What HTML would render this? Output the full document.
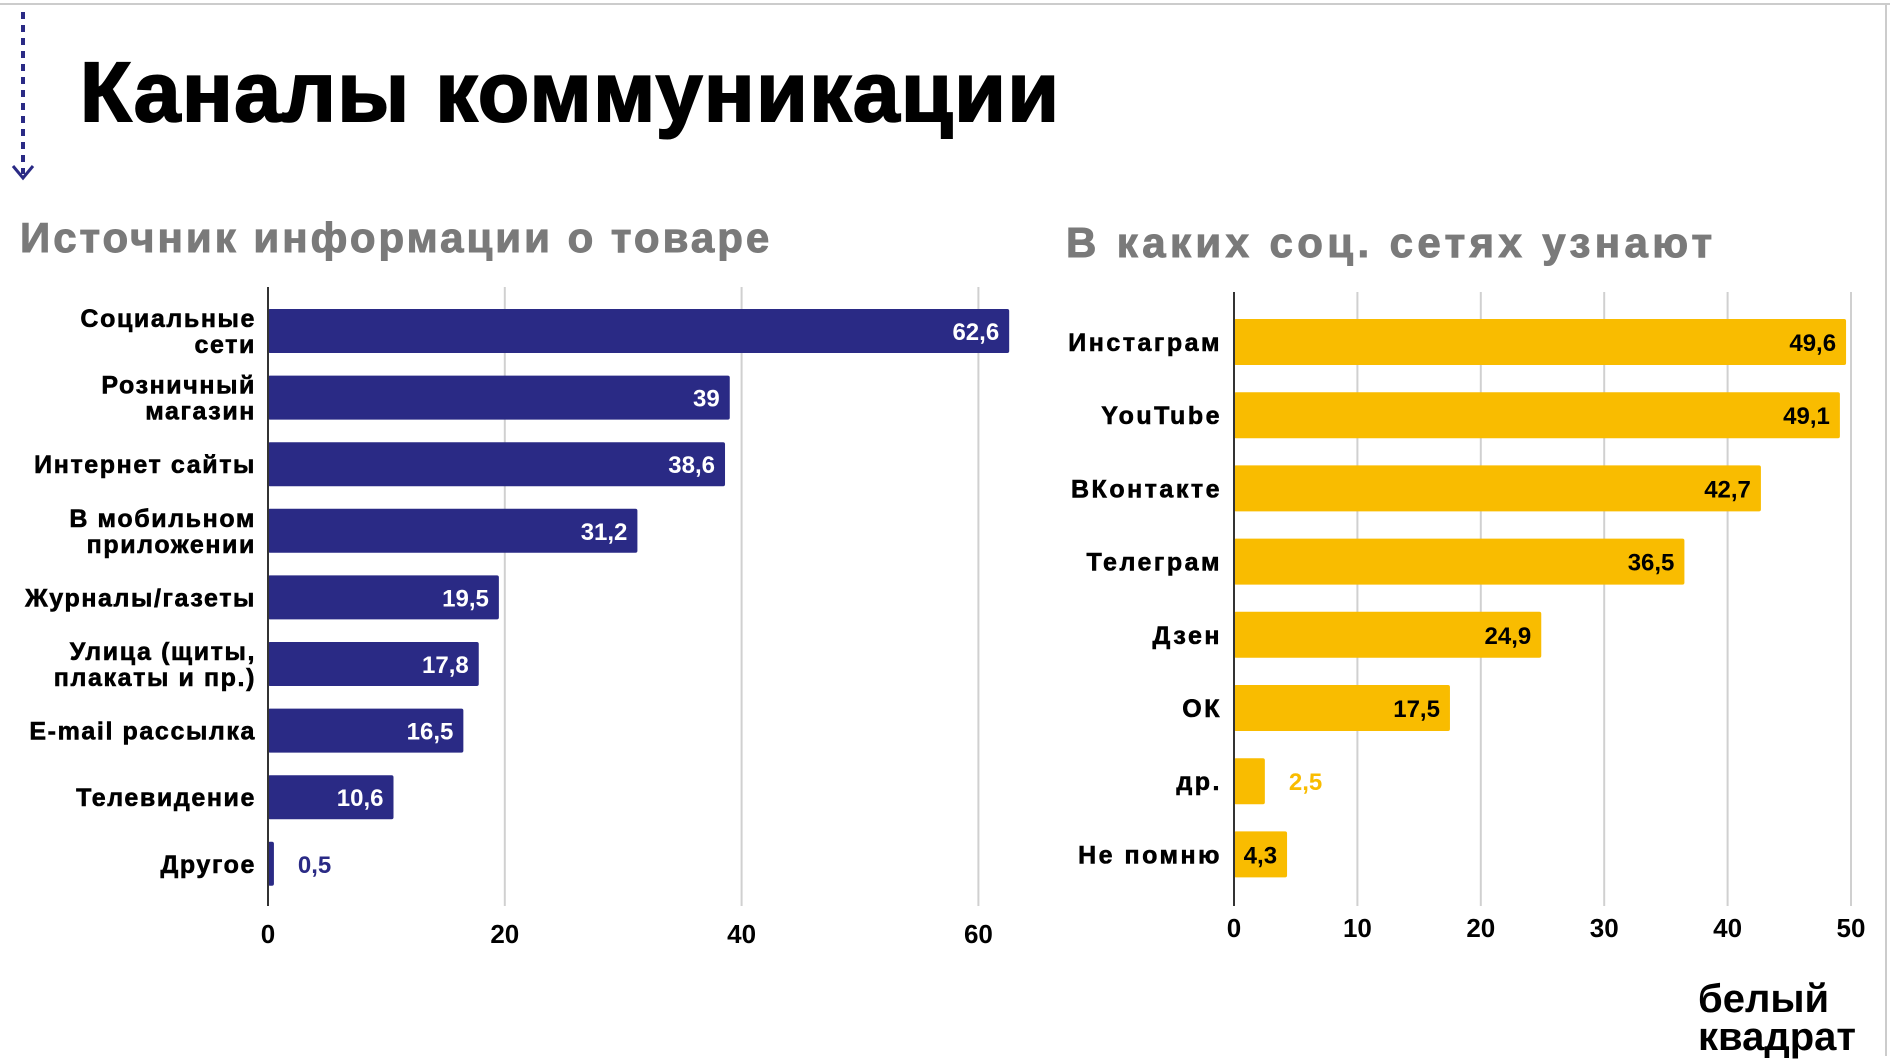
<!DOCTYPE html>
<html><head><meta charset="utf-8">
<style>
html,body{margin:0;padding:0;background:#fff;}
body{width:1890px;height:1056px;position:relative;overflow:hidden;font-family:"Liberation Sans","DejaVu Sans",sans-serif;}
.abs{position:absolute;}
</style></head>
<body>
<div class="abs" style="left:0;top:3px;width:1890px;height:2px;background:#ccc"></div>
<div class="abs" style="left:1885px;top:3px;width:2px;height:1053px;background:#ccc"></div>
<svg class="abs" style="left:10px;top:8px" width="30" height="175">
<line x1="13" y1="4" x2="13" y2="166" stroke="#2a2a85" stroke-width="4" stroke-dasharray="7,6"/>
<polyline points="3,158 13,170 23,158" fill="none" stroke="#2a2a85" stroke-width="3"/>
</svg>
<div class="abs" style="left:80px;top:44px;font-size:84px;font-weight:bold;color:#000;letter-spacing:1.5px;-webkit-text-stroke:2px #000">Каналы коммуникации</div>
<div class="abs" style="left:20px;top:214px;font-size:42px;font-weight:bold;color:#7a7a7a;letter-spacing:3px;-webkit-text-stroke:1px #7a7a7a">Источник информации о товаре</div>
<div class="abs" style="left:1066px;top:219px;font-size:42px;font-weight:bold;color:#7a7a7a;letter-spacing:4.4px;-webkit-text-stroke:1px #7a7a7a">В каких соц. сетях узнают</div>
<svg class="abs" id="chart" style="left:0;top:0" width="1890" height="1056"></svg>
<div class="abs" style="left:1698px;top:980px;font-size:40px;font-weight:bold;line-height:38px;color:#000;letter-spacing:0px">белый<br>квадрат</div>
<script>
const leftCats=[["Социальные","сети"],["Розничный","магазин"],["Интернет сайты"],["В мобильном","приложении"],["Журналы/газеты"],["Улица (щиты,","плакаты и пр.)"],["E-mail рассылка"],["Телевидение"],["Другое"]];
const leftVals=[62.6,39,38.6,31.2,19.5,17.8,16.5,10.6,0.5];
const leftTicks=[0,20,40,60];
const rightCats=["Инстаграм","YouTube","ВКонтакте","Телеграм","Дзен","ОК","др.","Не помню"];
const rightVals=[49.6,49.1,42.7,36.5,24.9,17.5,2.5,4.3];
const rightTicks=[0,10,20,30,40,50];
const NS="http://www.w3.org/2000/svg";
const svg=document.getElementById('chart');
function mk(tag,attrs,txt){const e=document.createElementNS(NS,tag);for(const k in attrs)e.setAttribute(k,attrs[k]);if(txt!==undefined)e.textContent=txt;svg.appendChild(e);return e;}
function fmt(v){return String(v).replace('.',',');}
function draw(o){
  const x=v=>o.x0+v*o.unit;
  const y=i=>o.y0+i*o.step;
  o.ticks.forEach(t=>{
    if(t>0){const g=mk('line',{x1:x(t),x2:x(t),y1:o.top,y2:o.bottom,stroke:'#d0d0d0','stroke-width':2});
    
    }
    const tl=mk('text',{x:x(t),y:o.tickY,'text-anchor':'middle','font-size':26,'font-weight':'bold',fill:'#000'},String(t));
    
    
  });
  o.vals.forEach((v,i)=>{
    const b=mk('rect',{x:x(0),y:y(i)-o.bh/2,width:Math.max(x(v)-x(0),3),height:o.bh,fill:o.color,rx:2});
    
    
    const inside=(x(v)-x(0))>50;
    const t=mk('text',{x:inside?x(v)-10:x(v)+24,y:y(i)+9,'text-anchor':inside?'end':'start','font-size':24,'font-weight':'bold',fill:inside?o.vcolor:o.color},fmt(v));
    
    
    const lines=Array.isArray(o.cats[i])?o.cats[i]:[o.cats[i]];
    const lh=26, start=y(i)+9-(lines.length-1)*lh/2;
    lines.forEach((ln,j)=>{
      const c=mk('text',{x:o.labX,y:start+j*lh,'text-anchor':'end','font-size':25,'font-weight':'bold',fill:'#000','letter-spacing':o.ls,stroke:'#000','stroke-width':0.6},ln);
      
      
    });
  });
  const ax=mk('line',{x1:x(0),x2:x(0),y1:o.top,y2:o.bottom,stroke:'#333','stroke-width':2});
  
  
}
draw({x0:268,unit:11.84,y0:331,step:66.6,bh:44,top:287,bottom:906,tickY:943,labX:256,color:'#2a2a85',vcolor:'#fff',cats:leftCats,vals:leftVals,ticks:leftTicks,ls:1.6});
draw({x0:1234,unit:12.34,y0:342,step:73.2,bh:46,top:292,bottom:906,tickY:937,labX:1222,color:'#f9bc00',vcolor:'#000',cats:rightCats,vals:rightVals,ticks:rightTicks,ls:2.5});
</script>
</body></html>
